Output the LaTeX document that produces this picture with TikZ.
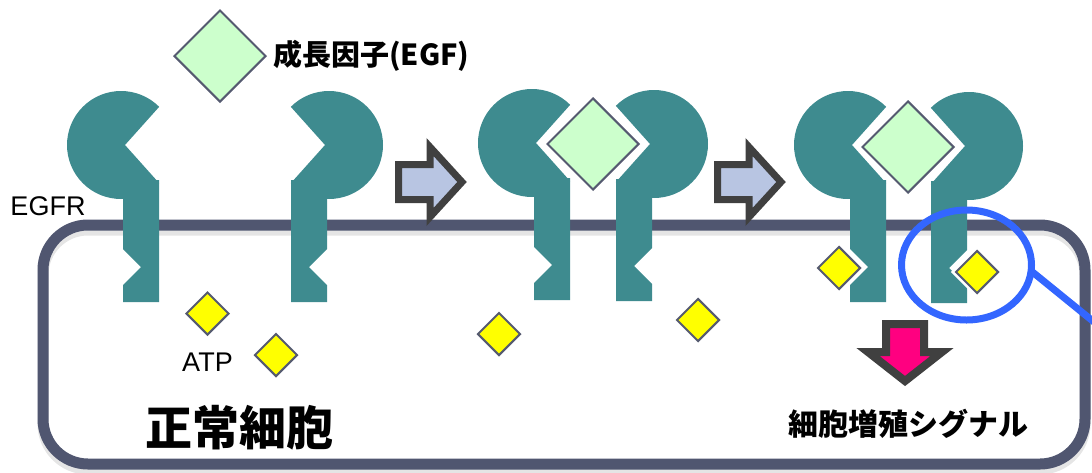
\documentclass[tikz,border=0pt]{standalone}
\usepackage{fontspec}
\setmainfont{Liberation Sans}
\newfontfamily\jpfont{Noto Sans CJK JP}
\usetikzlibrary{shapes.geometric,positioning}

\definecolor{egfrteal}{RGB}{62,139,143}
\definecolor{membrane}{RGB}{80,86,112}
\definecolor{edge}{RGB}{85,90,112}
\definecolor{egfgreen}{RGB}{204,255,204}
\definecolor{atpyellow}{RGB}{255,255,0}
\definecolor{arrowgray}{RGB}{64,64,64}
\definecolor{arrowblue}{RGB}{184,197,226}
\definecolor{signalpink}{RGB}{255,0,128}
\definecolor{lensblue}{RGB}{51,102,255}

\begin{document}
\begin{tikzpicture}[x=1pt,y=-1pt,
  body/.style={fill=egfrteal},
  receptor/.pic={
    \fill[body] (4,0) -- (45:54) arc[start angle=45,end angle=315,radius=54] -- cycle;
    \fill[body] (2,35) -- (38,35) -- (38,157) -- (2,157) -- (2,140) -- (20,122) -- (2,104) -- cycle;
  },
  egf/.style={diamond,draw=edge,fill=egfgreen,line width=2pt,minimum size=92pt,inner sep=0pt},
  atp/.style={diamond,draw=edge,fill=atpyellow,line width=2pt,minimum size=43pt,inner sep=0pt},
  halo/.style={preaction={draw=white,line width=#1}},
  block arrow/.style={draw=arrowgray,line width=7pt,fill=arrowblue},
  lens ring/.style={draw=lensblue,line width=7pt},
  lbl/.style={inner sep=0pt,font=\fontsize{27}{30}\selectfont},
  jp/.style={inner sep=0pt,font=\jpfont\bfseries\fontsize{#1}{#1}\selectfont}]
\path[use as bounding box] (0,0) rectangle (1092,472);
\clip (0,0) rectangle (1092,472);

% cell membrane with a soft shadow
\draw[black,opacity=.1,line width=11pt,rounded corners=45pt] (43,230) rectangle (1085,469);
\draw[membrane,line width=11pt,rounded corners=45pt] (43,225) rectangle (1085,464);

% receptors, three stages
\pic at (121,145) {receptor};
\pic[xscale=-1] at (329,145) {receptor};
\pic at (532,143) {receptor};
\pic[xscale=-1] at (654,144) {receptor};
\pic at (848,145) {receptor};
\pic[xscale=-1] at (969,146) {receptor};

% growth factor
\node[egf] (egf1) at (220,56) {};
\node[egf,halo=9pt] (egf2) at (593,144) {};
\node[egf,halo=9pt] (egf3) at (908,147) {};

% ATP
\node[atp] (atp1) at (207.5,313.5) {};
\node[atp] (atp2) at (276,355) {};
\node[atp] (atp3) at (499,334) {};
\node[atp] (atp4) at (698,320) {};
\node[atp,halo=7pt] (atp5) at (839,268) {};
\node[atp,halo=7pt] (atp6) at (977,272) {};

% step arrows
\draw[block arrow] (398.5,164.5) -- (430,164.5) -- (430,147) -- (462,182) -- (430,217) -- (430,199.5) -- (398.5,199.5) -- cycle;
\draw[block arrow] (717.5,164.5) -- (749,164.5) -- (749,147) -- (781,182) -- (749,217) -- (749,199.5) -- (717.5,199.5) -- cycle;
\draw[draw=arrowgray,line width=8pt,fill=signalpink] (886,324) -- (924,324) -- (924,352) -- (942,352) -- (905,381) -- (868,352) -- (886,352) -- cycle;

% magnifier
\coordinate (lens) at (966.5,265);
\coordinate (grip) at (1030,270);
\coordinate (grip end) at (1110,335);
\draw[lens ring] (lens) ellipse[x radius=65,y radius=55];
\draw[lens ring] (grip) -- (grip end);

% labels
\node[jp=29,anchor=west,right=6pt of egf1] (egfname) {成長因子(EGF)};
\node[lbl] (egfr) at (48,206) {EGFR};
\node[lbl,below=17pt of atp1] (atp) {ATP};
\node[jp=47] (normal) at (239,428) {正常細胞};
\node[jp=30] (signal) at (908,424) {細胞増殖シグナル};
\end{tikzpicture}
\end{document}
